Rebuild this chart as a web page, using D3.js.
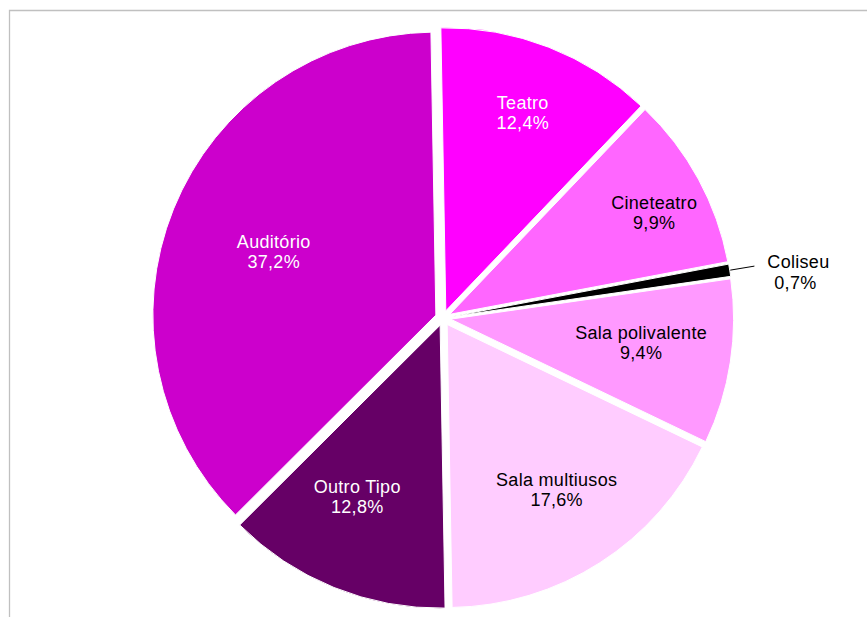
<!DOCTYPE html>
<html>
<head>
<meta charset="utf-8">
<script src="https://cdn.jsdelivr.net/npm/d3@7/dist/d3.min.js"></script>
<style>
  html, body { margin: 0; padding: 0; background: #fff; }
  svg { display: block; }
  text { font-family: "Liberation Sans", Arial, sans-serif; font-size: 18px; }
</style>
</head>
<body>
<svg id="chart" width="867" height="617"></svg>
<script>
// ---- data ----
const categories = ["Teatro", "Cineteatro", "Coliseu", "Sala polivalente", "Sala multiusos", "Outro Tipo", "Auditório"];
const values = [12.4, 9.9, 0.7, 9.4, 17.6, 12.8, 37.2];
const valueLabels = ["12,4%", "9,9%", "0,7%", "9,4%", "17,6%", "12,8%", "37,2%"];

// ---- styles / layout ----
const colors = ["#FF00FF", "#FF66FF", "#000000", "#FF99FF", "#FFCCFF", "#660066", "#CC00CC"];
const textColors = ["#FFFFFF", "#000000", "#000000", "#000000", "#000000", "#FFFFFF", "#FFFFFF"];
const labelRadiusFrac = [0.775, 0.832, null, 0.706, 0.73, 0.703, 0.641];
const labelAngleShiftDeg = [0, 2.3, 0, -1.2, -0.7, 3.5, -1.0];

const W = 867, H = 617;
const cx = 443, cy = 318, R = 283, explode = 7.7;
const rot = -1 * Math.PI / 180;

const svg = d3.select("#chart");

// frame
svg.append("path")
  .attr("d", `M9.5,${H} L9.5,10.5 L${W},10.5`)
  .attr("fill", "none")
  .attr("stroke", "#c0c0c0")
  .attr("stroke-width", 1.3);

const pie = d3.pie().sort(null).value(d => d)
  .startAngle(rot).endAngle(2 * Math.PI + rot);
const arcs = pie(values);
const arc = d3.arc().innerRadius(0).outerRadius(R);

const g = svg.append("g").attr("transform", `translate(${cx},${cy})`);

const mid = d => (d.startAngle + d.endAngle) / 2;

g.selectAll("path.slice")
  .data(arcs)
  .join("path")
  .attr("class", "slice")
  .attr("d", arc)
  .attr("fill", (d, i) => colors[i])
  .attr("stroke", "#fff")
  .attr("stroke-width", 1)
  .attr("transform", d => {
    const a = mid(d);
    return `translate(${explode * Math.sin(a)},${-explode * Math.cos(a)})`;
  });

// labels
arcs.forEach((d, i) => {
  const a = mid(d);
  if (labelRadiusFrac[i] !== null) {
    const la = a + labelAngleShiftDeg[i] * Math.PI / 180;
    const lr = R * labelRadiusFrac[i];
    const x = lr * Math.sin(la), y = -lr * Math.cos(la);
    const t = g.append("text")
      .attr("text-anchor", "middle")
      .attr("fill", textColors[i])
      .style("letter-spacing", "0.3px");
    t.append("tspan").attr("x", x).attr("y", y - 5).text(categories[i]);
    t.append("tspan").attr("x", x).attr("y", y + 15).text(valueLabels[i]);
  } else {
    // outside label with leader line
    const r0 = R + explode + 0.5, r1 = R + explode + 25;
    const x0 = r0 * Math.sin(a), y0 = -r0 * Math.cos(a);
    const x1 = r1 * Math.sin(a), y1 = -r1 * Math.cos(a);
    g.append("line")
      .attr("x1", x0).attr("y1", y0).attr("x2", x1).attr("y2", y1)
      .attr("stroke", "#000").attr("stroke-width", 1);
    const t = g.append("text")
      .attr("text-anchor", "middle")
      .attr("fill", textColors[i])
      .style("letter-spacing", "0.3px");
    t.append("tspan").attr("x", x1 + 44).attr("y", y1 + 2).text(categories[i]);
    t.append("tspan").attr("x", x1 + 41).attr("y", y1 + 23).text(valueLabels[i]);
  }
});
</script>
</body>
</html>
